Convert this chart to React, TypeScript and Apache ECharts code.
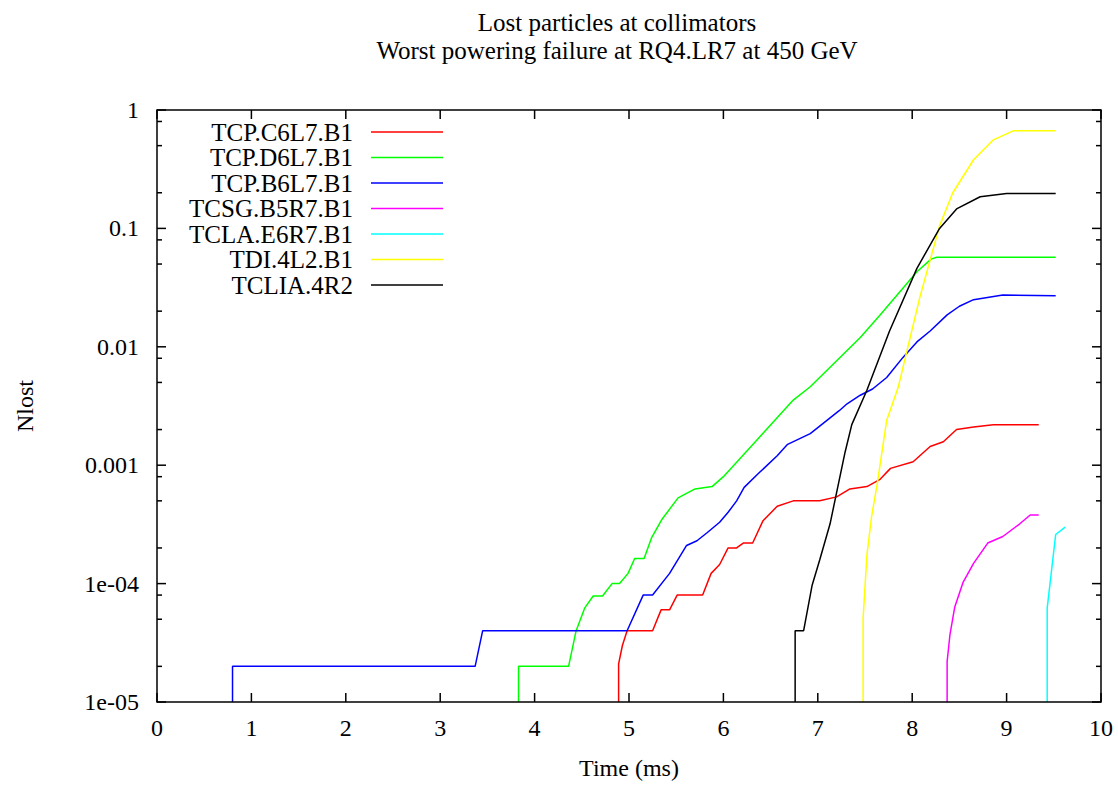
import React, { useEffect, useRef } from 'react';
import * as echarts from 'echarts';

// ---------- data ----------
const seriesNames = [
  'TCP.C6L7.B1',
  'TCP.D6L7.B1',
  'TCP.B6L7.B1',
  'TCSG.B5R7.B1',
  'TCLA.E6R7.B1',
  'TDI.4L2.B1',
  'TCLIA.4R2',
];
const seriesColors = ['#ff0000', '#00ff00', '#0000ff', '#ff00ff', '#00ffff', '#ffff00', '#000000'];

// [time (ms), Nlost]
const tcpC6L7 = [
  [4.89, 1e-5], [4.89, 2.1e-5], [4.93, 3e-5], [4.98, 4e-5], [5.25, 4e-5], [5.34, 6e-5], [5.43, 6e-5],
  [5.51, 8e-5], [5.78, 8e-5], [5.87, 1.22e-4], [5.96, 1.45e-4], [6.05, 2e-4], [6.14, 2e-4], [6.21, 2.2e-4],
  [6.31, 2.2e-4], [6.42, 3.4e-4], [6.57, 4.5e-4], [6.74, 5e-4], [7.02, 5e-4], [7.2, 5.4e-4], [7.34, 6.3e-4],
  [7.52, 6.6e-4], [7.66, 7.6e-4], [7.77, 9.4e-4], [8.01, 1.07e-3], [8.19, 1.44e-3], [8.33, 1.58e-3],
  [8.47, 2e-3], [8.65, 2.1e-3], [8.86, 2.2e-3], [9.34, 2.2e-3],
];
const tcpD6L7 = [
  [3.83, 1e-5], [3.83, 2e-5], [4.36, 2e-5], [4.44, 4e-5], [4.53, 6.2e-5], [4.62, 7.85e-5], [4.72, 7.85e-5],
  [4.82, 1e-4], [4.9, 1e-4], [4.99, 1.22e-4], [5.06, 1.63e-4], [5.16, 1.63e-4], [5.24, 2.45e-4], [5.35, 3.5e-4],
  [5.52, 5.3e-4], [5.7, 6.3e-4], [5.88, 6.6e-4], [6.0, 8e-4], [6.36, 1.65e-3], [6.74, 3.55e-3], [6.92, 4.6e-3],
  [7.45, 0.012], [7.66, 0.0186], [8.05, 0.043], [8.2, 0.055], [8.26, 0.057], [9.52, 0.057],
];
const tcpB6L7 = [
  [0.8, 1e-5], [0.8, 2e-5], [3.37, 2e-5], [3.45, 4e-5], [4.98, 4e-5], [5.15, 8e-5], [5.25, 8e-5],
  [5.43, 1.22e-4], [5.61, 2.1e-4], [5.72, 2.3e-4], [5.83, 2.7e-4], [5.96, 3.3e-4], [6.05, 4e-4], [6.14, 5e-4],
  [6.22, 6.5e-4], [6.37, 8.5e-4], [6.57, 1.2e-3], [6.68, 1.5e-3], [6.92, 1.85e-3], [7.1, 2.4e-3],
  [7.23, 2.9e-3], [7.31, 3.3e-3], [7.45, 3.9e-3], [7.58, 4.4e-3], [7.73, 5.5e-3], [7.9, 8.1e-3],
  [8.05, 0.011], [8.19, 0.0136], [8.37, 0.0186], [8.5, 0.022], [8.65, 0.025], [8.96, 0.0274], [9.52, 0.027],
];
const tcsgB5R7 = [
  [8.37, 1e-5], [8.37, 2.2e-5], [8.4, 3.7e-5], [8.45, 6.3e-5], [8.54, 1.03e-4], [8.65, 1.48e-4],
  [8.8, 2.2e-4], [8.96, 2.5e-4], [9.14, 3.2e-4], [9.25, 3.8e-4], [9.34, 3.8e-4],
];
const tclaE6R7 = [
  [9.43, 1e-5], [9.43, 6.2e-5], [9.46, 1e-4], [9.52, 2.6e-4], [9.62, 3e-4],
];
const tdi4L2 = [
  [7.48, 1e-5], [7.48, 5.1e-5], [7.52, 1.73e-4], [7.57, 3.7e-4], [7.63, 7e-4], [7.73, 2.4e-3],
  [7.85, 4.5e-3], [8.08, 0.026], [8.29, 0.105], [8.43, 0.2], [8.65, 0.38], [8.86, 0.56], [9.07, 0.667],
  [9.52, 0.667],
];
const tclia4R2 = [
  [6.76, 1e-5], [6.76, 4e-5], [6.85, 4e-5], [6.94, 9.7e-5], [7.02, 1.58e-4], [7.13, 3.2e-4],
  [7.29, 1.3e-3], [7.36, 2.2e-3], [7.52, 4.3e-3], [7.76, 0.0136], [8.05, 0.046], [8.29, 0.1],
  [8.47, 0.146], [8.72, 0.185], [9.0, 0.197], [9.52, 0.197],
];
const seriesData = [tcpC6L7, tcpD6L7, tcpB6L7, tcsgB5R7, tclaE6R7, tdi4L2, tclia4R2];

const titleLines = ['Lost particles at collimators', 'Worst powering failure at RQ4.LR7 at 450 GeV'];
const xAxisName = 'Time (ms)';
const yAxisName = 'Nlost';
const xMin = 0;
const xMax = 10;
const yMin = 1e-5;
const yMax = 1;
const xTickValues = [0, 1, 2, 3, 4, 5, 6, 7, 8, 9, 10];
const yDecadeExponents = [-5, -4, -3, -2, -1, 0];
const yDecadeLabels = ['1e-05', '1e-04', '0.001', '0.01', '0.1', '1'];
const minorMultipliers = [2, 5, 8];
const minorDecades = [-5, -4, -3, -2, -1];

// ---------- layout ----------
const FONT = '"Liberation Serif", "DejaVu Serif", serif';
const GRID = { left: 157, top: 110, right: 17, bottom: 77 };
const LEGEND = { textRight: 353, lineX1: 371, lineX2: 443, y0: 132, dy: 25.5 };
const MAJOR_TICK = 9;
const MINOR_TICK = 5;

export default function App() {
  const ref = useRef<HTMLDivElement>(null);

  useEffect(() => {
    document.body.style.margin = '0';
    const chart = echarts.init(ref.current!, null, { renderer: 'svg' });

    const legendGraphic: any[] = [];
    seriesNames.forEach((name, i) => {
      const y = LEGEND.y0 + i * LEGEND.dy;
      legendGraphic.push({
        type: 'text',
        x: LEGEND.textRight,
        y,
        style: {
          text: name,
          align: 'right',
          verticalAlign: 'middle',
          font: `25px ${FONT}`,
          fill: '#000',
        },
        silent: true,
      });
      legendGraphic.push({
        type: 'line',
        shape: { x1: LEGEND.lineX1, y1: y, x2: LEGEND.lineX2, y2: y },
        style: { stroke: seriesColors[i], lineWidth: 1.5 },
        silent: true,
      });
    });

    const labelStyle = { fontFamily: FONT, fontSize: 24, color: '#000' };

    const option: any = {
      animation: false,
      backgroundColor: '#fff',
      title: {
        text: titleLines.join('\n'),
        left: 612,
        top: 3,
        textAlign: 'center',
        textStyle: { fontFamily: FONT, fontSize: 25, fontWeight: 'normal', color: '#000', lineHeight: 28 },
      },
      grid: { ...GRID, containLabel: false },
      xAxis: {
        type: 'value',
        min: xMin,
        max: xMax,
        interval: 1,
        name: xAxisName,
        nameLocation: 'middle',
        nameGap: 54,
        nameTextStyle: { ...labelStyle },
        axisLine: { show: false, onZero: false },
        axisTick: { show: false },
        axisLabel: { ...labelStyle, margin: 14 },
        splitLine: { show: false },
      },
      yAxis: {
        type: 'log',
        logBase: 10,
        min: yMin,
        max: yMax,
        splitNumber: 5,
        name: yAxisName,
        nameLocation: 'middle',
        nameGap: 120,
        nameTextStyle: { ...labelStyle },
        axisLine: { show: false, onZero: false },
        axisTick: { show: false },
        axisLabel: {
          ...labelStyle,
          margin: 18,
          formatter: (v: number) => yDecadeLabels[Math.round(Math.log10(v)) + 5] ?? '',
        },
        splitLine: { show: false },
      },
      series: seriesNames.map((name, i) => ({
        name,
        type: 'line',
        data: seriesData[i],
        showSymbol: false,
        symbol: 'none',
        lineStyle: { color: seriesColors[i], width: 1.5 },
        itemStyle: { color: seriesColors[i] },
        emphasis: { disabled: true },
      })),
      graphic: legendGraphic,
    };

    chart.setOption(option);

    // border and inward ticks on all four sides (gnuplot style), positioned through the axis scales
    const px = (x: number, y: number) => chart.convertToPixel({ gridIndex: 0 }, [x, y]) as number[];
    const [left, bottom] = px(xMin, yMin);
    const [right, top] = px(xMax, yMax);
    const frameGraphic: any[] = [];
    const stroke = { stroke: '#000', lineWidth: 1.5 };
    frameGraphic.push({
      type: 'rect',
      shape: { x: left, y: top, width: right - left, height: bottom - top },
      style: { ...stroke, fill: 'none' },
      silent: true,
      z: 10,
    });
    const seg = (x1: number, y1: number, x2: number, y2: number) =>
      frameGraphic.push({ type: 'line', shape: { x1, y1, x2, y2 }, style: stroke, silent: true, z: 10 });
    const hTick = (y: number, len: number) => {
      seg(left, y, left + len, y);
      seg(right - len, y, right, y);
    };
    yDecadeExponents.forEach((e) => hTick(px(xMin, Math.pow(10, e))[1], MAJOR_TICK));
    minorDecades.forEach((d) =>
      minorMultipliers.forEach((m) => hTick(px(xMin, m * Math.pow(10, d))[1], MINOR_TICK)),
    );
    xTickValues.forEach((t) => {
      const x = px(t, yMin)[0];
      seg(x, bottom, x, bottom - MAJOR_TICK);
      seg(x, top, x, top + MAJOR_TICK);
    });
    chart.setOption({ graphic: [...legendGraphic, ...frameGraphic] });

    return () => chart.dispose();
  }, []);

  return <div ref={ref} style={{ width: 1118, height: 785 }} />;
}
